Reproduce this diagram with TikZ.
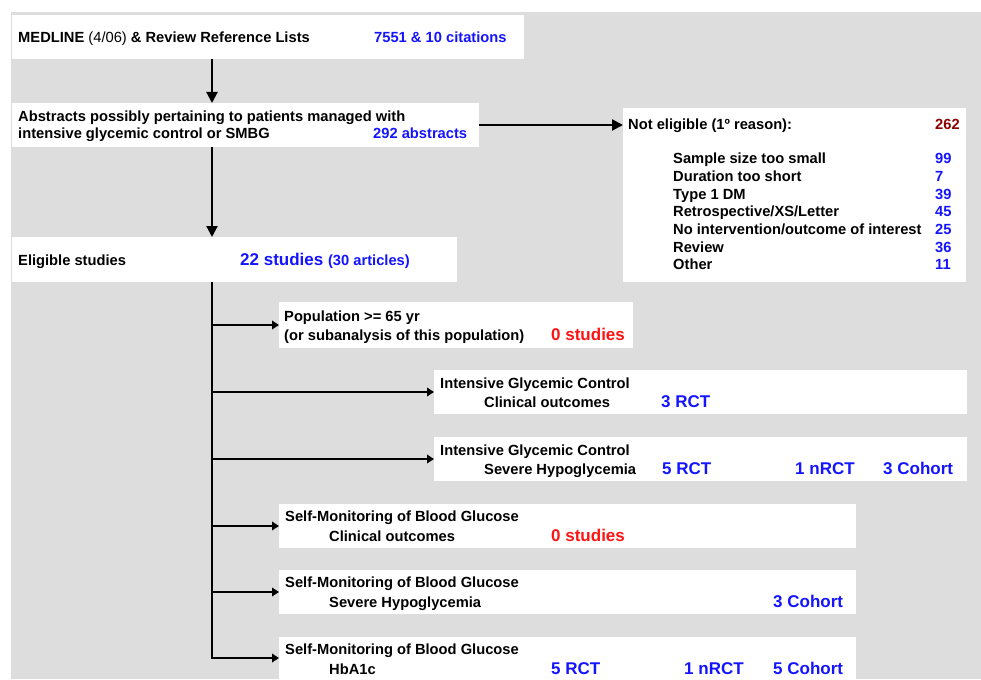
\documentclass[tikz,border=0pt]{standalone}
\usepackage{fontspec}
\setmainfont{Liberation Sans}
\usetikzlibrary{arrows.meta}
\definecolor{bgray}{RGB}{221,221,221}
\definecolor{cblue}{RGB}{20,20,255}
\definecolor{cred}{RGB}{255,20,20}
\definecolor{dred}{RGB}{140,0,0}
\newcommand{\nsz}{\fontsize{14.7}{17}\selectfont\bfseries}
\newcommand{\bsz}{\fontsize{17}{20}\selectfont\bfseries}
\tikzset{
  wbox/.style={fill=white, draw=none, anchor=north west, inner sep=0pt, outer sep=0pt},
  txt/.style={anchor=base west, inner sep=0pt, font=\nsz, text=black},
  num/.style={anchor=base west, inner sep=0pt, font=\nsz, text=cblue},
  res/.style={anchor=base west, inner sep=0pt, font=\bsz, text=cblue},
  zero/.style={anchor=base west, inner sep=0pt, font=\bsz, text=cred},
  arr/.style={line width=2.2pt, -{Triangle[length=11pt,width=11pt]}},
  barr/.style={line width=2pt, -{Triangle[length=7pt,width=8.5pt]}},
  ln/.style={line width=2pt}
}
\begin{document}
\begin{tikzpicture}[x=1pt,y=-1pt]
\useasboundingbox (0,0) rectangle (981,679);
\fill[white] (0,0) rectangle (981,679);
\fill[bgray] (11,12) rectangle (981,679);
% boxes
\node[wbox, minimum width=512pt, minimum height=44pt] (b1) at (12,15) {};
\node[wbox, minimum width=467pt, minimum height=44pt] (b2) at (12,103) {};
\node[wbox, minimum width=445pt, minimum height=45pt] (b3) at (12,237) {};
\node[wbox, minimum width=343pt, minimum height=174pt] (ne) at (623,108) {};
\node[wbox, minimum width=354pt, minimum height=46pt] (b4) at (279,302) {};
\node[wbox, minimum width=533pt, minimum height=44pt] (b5) at (434,370) {};
\node[wbox, minimum width=533pt, minimum height=44pt] (b6) at (434,437) {};
\node[wbox, minimum width=577pt, minimum height=44pt] (b7) at (279,504) {};
\node[wbox, minimum width=577pt, minimum height=44pt] (b8) at (279,570) {};
\node[wbox, minimum width=577pt, minimum height=42pt] (b9) at (279,637) {};
\coordinate (tr) at (212,0);
% texts box 1
\node[txt] (t1) at (18,43) {MEDLINE {\mdseries(4/06)} \& Review Reference Lists};
\node[num] (n1) at (374,43) {7551 \& 10 citations};
% box 2
\node[txt] (t2a) at (18,122) {Abstracts possibly pertaining to patients managed with};
\node[txt] (t2b) at (18,139) {intensive glycemic control or SMBG};
\node[num] (n2) at (373,139) {292 abstracts};
% box 3
\node[txt] (t3) at (18,265) {Eligible studies};
\node[res] (n3) at (240,265) {22 studies {\nsz(30 articles)}};
% not eligible
\node[txt] (ne0) at (628,130) {Not eligible (1º reason):};
\node[txt, text=dred] (nen) at (935,130) {262};
\foreach \i/\t/\n in {0/Sample size too small/99, 1/Duration too short/7, 2/Type 1 DM/39, 3/Retrospective\slash XS\slash Letter/45, 4/No intervention\slash outcome of interest/25, 5/Review/36, 6/Other/11}{
  \node[txt] (ne\i a) at (673,164+17.6*\i) {\t};
  \node[num] (ne\i b) at (935,164+17.6*\i) {\n};
}
% box 4
\node[txt] (t4a) at (284,321) {Population >= 65 yr};
\node[txt] (t4b) at (284,340) {(or subanalysis of this population)};
\node[zero] (n4) at (551,340) {0 studies};
% box 5
\node[txt] (t5a) at (440,388) {Intensive Glycemic Control};
\node[txt] (t5b) at (484,407) {Clinical outcomes};
\node[res] (n5) at (661,407) {3 RCT};
% box 6
\node[txt] (t6a) at (440,455) {Intensive Glycemic Control};
\node[txt] (t6b) at (484,474) {Severe Hypoglycemia};
\node[res] (n6a) at (662,474) {5 RCT};
\node[res] (n6b) at (795,474) {1 nRCT};
\node[res] (n6c) at (883,474) {3 Cohort};
% box 7
\node[txt] (t7a) at (285,521) {Self-Monitoring of Blood Glucose};
\node[txt] (t7b) at (329,541) {Clinical outcomes};
\node[zero] (n7) at (551,541) {0 studies};
% box 8
\node[txt] (t8a) at (285,587) {Self-Monitoring of Blood Glucose};
\node[txt] (t8b) at (329,607) {Severe Hypoglycemia};
\node[res] (n8) at (773,607) {3 Cohort};
% box 9
\node[txt] (t9a) at (285,654) {Self-Monitoring of Blood Glucose};
\node[txt] (t9b) at (329,674) {HbA1c};
\node[res] (n9a) at (551,674) {5 RCT};
\node[res] (n9b) at (684,674) {1 nRCT};
\node[res] (n9c) at (773,674) {5 Cohort};
% connectors
\draw[arr] (tr |- b1.south) -- (tr |- b2.north);
\draw[arr] (b2.east) -- (b2.east -| ne.west);
\draw[arr] (tr |- b2.south) -- (tr |- b3.north);
\draw[ln] (tr |- b3.south) -- ([yshift=1pt]tr |- b9.west);
\foreach \b in {b4,b5,b6,b7,b8,b9}{
  \draw[barr] ([xshift=-1pt]tr |- \b.west) -- (\b.west);
}
\end{tikzpicture}
\end{document}
